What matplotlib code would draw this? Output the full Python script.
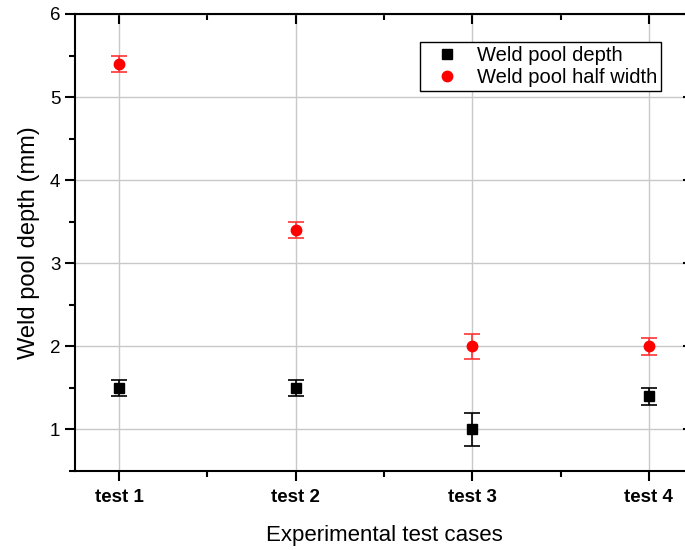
import numpy as np
import matplotlib.pyplot as plt
from matplotlib.ticker import MultipleLocator
from matplotlib.lines import Line2D

plt.rcParams['font.family'] = ['Liberation Sans', 'DejaVu Sans']

# data
tests = ['test 1', 'test 2', 'test 3', 'test 4']
depth = [1.5, 1.5, 1.0, 1.4]
depth_err = [0.1, 0.1, 0.2, 0.1]
half_width = [5.4, 3.4, 2.0, 2.0]
half_width_err = [0.1, 0.1, 0.15, 0.1]

x = np.arange(1, len(tests) + 1)

fig = plt.figure(figsize=(6.85, 5.5), dpi=100)
# right spine falls just outside the picture, as in the reference
ax = fig.add_axes([75 / 685, 1 - 471 / 550, 618 / 685, 457 / 550])

ax.errorbar(x, depth, yerr=depth_err, fmt='s', color='black', ms=6.5,
            capsize=5.5, elinewidth=1.2, capthick=1.2, zorder=3)
ax.errorbar(x, half_width, yerr=half_width_err, fmt='o', color='#ff0000', ms=7.5,
            capsize=5.5, elinewidth=1.2, capthick=1.2, ecolor='#ff3333', zorder=3)

ax.set_xlim(0.75, 4.25)
ax.set_ylim(0.5, 6)
ax.set_xticks(x)
ax.set_xticklabels(tests, fontweight='bold', fontsize=13.5)
ax.xaxis.set_minor_locator(MultipleLocator(0.5))
ax.yaxis.set_major_locator(MultipleLocator(1))
ax.yaxis.set_minor_locator(MultipleLocator(0.5))
ax.tick_params(axis='y', labelsize=13.5)
ax.tick_params(axis='x', pad=6)

ax.tick_params(which='both', direction='out', width=1.5)
ax.tick_params(which='major', length=7)
ax.tick_params(which='minor', length=4)
ax.tick_params(which='both', top=True, right=True)
# ticks on the top and right point inward
for t in ax.xaxis.get_major_ticks() + ax.xaxis.get_minor_ticks():
    t.tick2line.set_marker(3)
for t in ax.yaxis.get_major_ticks() + ax.yaxis.get_minor_ticks():
    t.tick2line.set_marker(0)

for s in ax.spines.values():
    s.set_linewidth(1.5)

ax.grid(True, which='major', color='#c8c8c8', lw=1)
ax.set_axisbelow(True)

ax.set_xlabel('Experimental test cases', fontsize=16, labelpad=14)
ax.set_ylabel('Weld pool depth (mm)', fontsize=17, labelpad=7)

handles = [Line2D([], [], ls='none', marker='s', color='black', ms=6.5),
           Line2D([], [], ls='none', marker='o', color='#ff0000', ms=7.5)]
labels = ['Weld pool depth', 'Weld pool half width']
leg = ax.legend(handles, labels, loc='upper right',
                bbox_to_anchor=((661 - 75) / 618, 1 - 28 / 457),
                fontsize=14.5, frameon=True, fancybox=False, edgecolor='black',
                framealpha=1, handletextpad=0.4, borderpad=0.2, labelspacing=0.15,
                handlelength=2.2, borderaxespad=0)
leg.get_frame().set_linewidth(1)

fig.savefig('out.png', dpi=100)
